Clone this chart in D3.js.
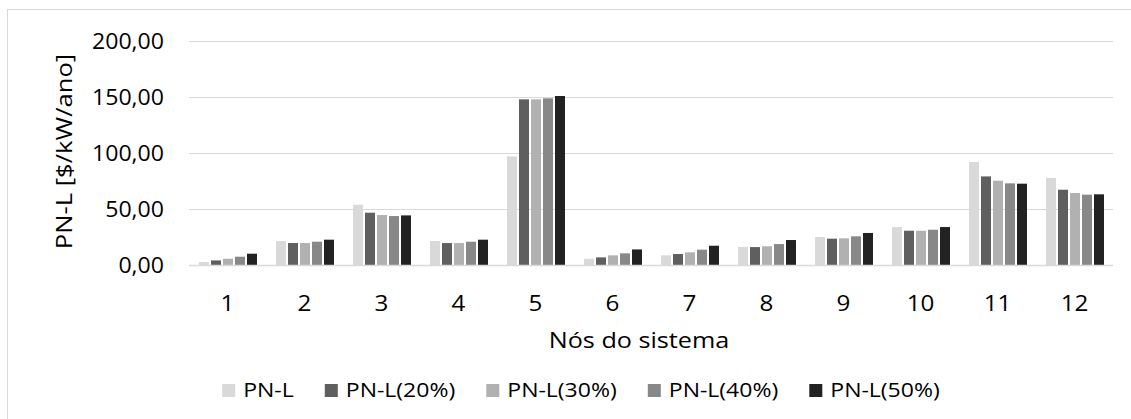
<!DOCTYPE html>
<html>
<head>
<meta charset="utf-8">
<script src="https://cdn.jsdelivr.net/npm/d3@7"></script>
<style>
  html, body { margin: 0; padding: 0; background: #fff; }
  svg { display: block; }
  text { font-family: "Open Sans", "Noto Sans", sans-serif; fill: #000; }
</style>
</head>
<body>
<svg id="chart" width="1131" height="419"></svg>
<script>
// Nodes of the system (x categories)
const nodes = ["1", "2", "3", "4", "5", "6", "7", "8", "9", "10", "11", "12"];

// Series names, in legend order
const seriesNames = ["PN-L", "PN-L(20%)", "PN-L(30%)", "PN-L(40%)", "PN-L(50%)"];

// PN-L values [$/kW/ano] per node for each series
const pnl    = [2.7, 21.4, 53.8, 21.4,  97.0,  5.6,  8.6, 16.1, 25.0, 33.9, 92.0, 77.7];
const pnl20  = [4.1, 19.6, 46.7, 19.6, 147.9,  6.8,  9.8, 16.0, 23.5, 30.6, 79.1, 67.2];
const pnl30  = [5.6, 19.6, 44.6, 19.6, 147.9,  8.6, 11.3, 16.7, 23.8, 30.6, 75.3, 64.3];
const pnl40  = [7.4, 20.8, 43.7, 20.8, 148.8, 10.4, 13.7, 18.7, 25.6, 31.5, 72.9, 62.8];
const pnl50  = [10.1, 22.6, 44.3, 22.6, 150.9, 13.9, 17.2, 22.3, 28.6, 33.9, 72.6, 63.1];

// Y axis tick values
const yTicks = [0, 50, 100, 150, 200];

const seriesValues = [pnl, pnl20, pnl30, pnl40, pnl50];
const colors = ["#d9d9d9", "#5f5f5f", "#b1b1b1", "#888888", "#222222"];

const svg = d3.select("#chart");

// Widen glyphs horizontally around each text's anchor point
function widen(sel, k) {
  sel.each(function () {
    const t = d3.select(this);
    const x = +t.attr("x") || 0;
    const yy = +t.attr("y") || 0;
    const base = t.attr("transform") || "";
    t.attr("x", 0).attr("y", 0)
     .attr("transform", `${base} translate(${x},${yy}) scale(${k},1)`);
  });
}

// Outer chart frame
svg.append("rect")
  .attr("x", 7.5).attr("y", 9.5)
  .attr("width", 1200).attr("height", 500)
  .attr("fill", "#fff").attr("stroke", "#d9d9d9").attr("stroke-width", 1);

const plot = { left: 189, right: 1113, top: 41, bottom: 265 };

const x0 = d3.scaleBand().domain(nodes).range([plot.left, plot.right]).padding(0);
const inner = d3.scaleBand().domain(d3.range(seriesNames.length))
  .range([10, x0.bandwidth() - 9]).paddingInner(1 / 6).paddingOuter(0);
const y = d3.scaleLinear().domain([0, 200]).range([plot.bottom, plot.top]);

// Horizontal gridlines
svg.append("g")
  .selectAll("line")
  .data(yTicks.filter(d => d > 0))
  .join("line")
  .attr("x1", plot.left).attr("x2", plot.right)
  .attr("y1", d => Math.round(y(d)) + 0.5).attr("y2", d => Math.round(y(d)) + 0.5)
  .attr("stroke", "#d9d9d9").attr("stroke-width", 1);

// Bars
const groups = svg.append("g")
  .selectAll("g")
  .data(nodes)
  .join("g")
  .attr("transform", d => `translate(${x0(d)},0)`);

groups.selectAll("rect")
  .data((d, i) => seriesValues.map((vals, s) => ({ s, v: vals[i] })))
  .join("rect")
  .attr("x", d => inner(d.s))
  .attr("width", inner.bandwidth())
  .attr("y", d => y(d.v))
  .attr("height", d => y(0) - y(d.v))
  .attr("fill", d => colors[d.s]);

// Category axis baseline
svg.append("line")
  .attr("x1", plot.left).attr("x2", plot.right)
  .attr("y1", plot.bottom + 0.5).attr("y2", plot.bottom + 0.5)
  .attr("stroke", "#d9d9d9").attr("stroke-width", 1.5);

// Y axis labels
const yAxis = svg.append("g")
  .attr("transform", "translate(164,0)")
  .call(d3.axisLeft(y).tickValues(yTicks).tickSize(0).tickPadding(0)
    .tickFormat(d => d3.format(".2f")(d).replace(".", ",")));
yAxis.select(".domain").remove();
yAxis.selectAll("text")
  .attr("font-family", "Open Sans").attr("font-size", 21).attr("fill", "#000")
  .attr("dy", "0.36em");
widen(yAxis.selectAll("text"), 1.1);

// X axis labels
const xAxis = svg.append("g")
  .attr("transform", `translate(0,${plot.bottom})`)
  .call(d3.axisBottom(x0).tickSize(0).tickPadding(0));
xAxis.select(".domain").remove();
xAxis.selectAll("text")
  .attr("font-family", "Open Sans").attr("font-size", 22).attr("fill", "#000")
  .attr("dy", 0).attr("y", 46);
widen(xAxis.selectAll("text"), 1.1);

// Axis titles
const xTitle = svg.append("text")
  .attr("x", 639).attr("y", 348)
  .attr("text-anchor", "middle")
  .attr("font-size", 22.5)
  .text("Nós do sistema");
widen(xTitle, 1.12);

const yTitle = svg.append("text")
  .attr("transform", "translate(72,151.5) rotate(-90) scale(1.22,1)")
  .attr("text-anchor", "middle")
  .attr("font-size", 21)
  .text("PN-L [$/kW/ano]");

// Legend
const legendScale = 1.18;
const legend = svg.append("g");
const items = legend.selectAll("g")
  .data(seriesNames)
  .join("g");
items.append("rect")
  .attr("x", 0).attr("y", 384)
  .attr("width", 13).attr("height", 13)
  .attr("fill", (d, i) => colors[i]);
items.append("text")
  .attr("x", 21).attr("y", 397)
  .attr("font-size", 19.5)
  .text(d => d);

let cursor = 0;
const offsets = [];
items.each(function () {
  const t = d3.select(this).select("text").node();
  offsets.push(cursor);
  cursor += 21 + t.getComputedTextLength() * legendScale + 31;
});
widen(items.selectAll("text"), legendScale);
const totalW = cursor - 31;
const startX = 581 - totalW / 2;
items.attr("transform", (d, i) => `translate(${startX + offsets[i]},0)`);
</script>
</body>
</html>
